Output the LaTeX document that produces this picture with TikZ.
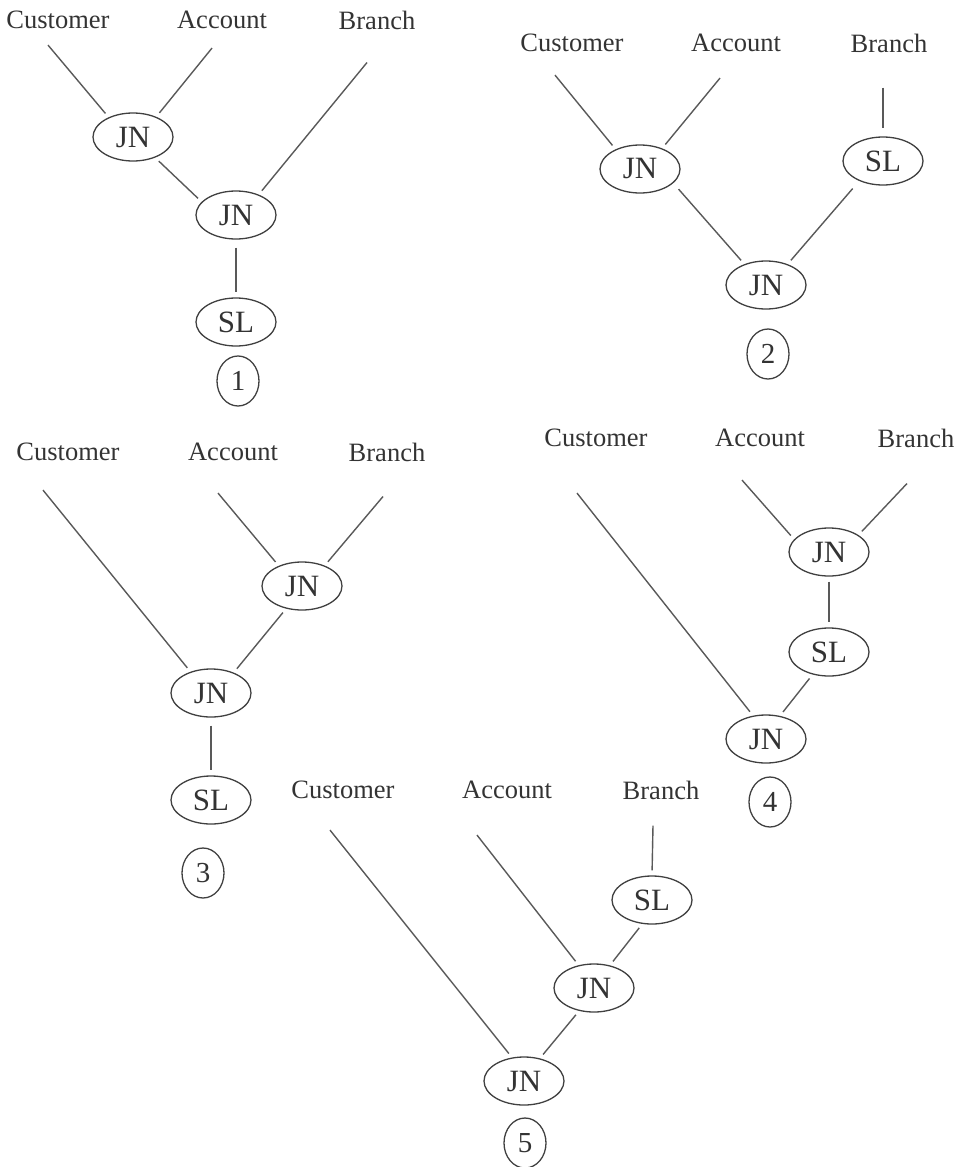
\documentclass[tikz,border=0pt]{standalone}
\usepackage{fontspec}
\setmainfont{Liberation Serif}
\usetikzlibrary{shapes.geometric}

\tikzset{
  lbl/.style={inner sep=0pt, text=black!80, font=\fontsize{26.5}{28}\selectfont},
  opnode/.style={ellipse, draw=black!75, line width=1.3pt, inner sep=0pt,
    minimum width=80pt, minimum height=48pt, text=black!80,
    font=\fontsize{31}{33}\selectfont},
  num/.style={opnode, minimum width=42pt, minimum height=50pt,
    font=\fontsize{29}{31}\selectfont},
  wire/.style={draw=black!65, line width=1.4pt, shorten >=5pt},
  bothgap/.style={wire, shorten <=5pt}
}

\begin{document}
\begin{tikzpicture}[x=1pt,y=-1pt]
\useasboundingbox (0,0) rectangle (959,1167);

% plan 1
\node[lbl] (c1) at (58,20) {Customer};
\node[lbl] (a1) at (222,20) {Account};
\node[lbl] (b1) at (377,20) {Branch};
\node[opnode] (j1) at (133,137) {JN};
\node[opnode] (k1) at (236,215) {JN};
\node[opnode] (s1) at (236,322) {SL};
\node[num] (n1) at (238,381) {1};
\draw[wire] (c1.south) ++(-10,16) -- (j1.141);
\draw[wire] (a1.south) ++(-10,19) -- (j1.41);
\draw[wire] (b1.south) ++(-10,33) -- (k1.42);
\draw[bothgap] (j1.-43) -- (k1.159);
\draw[bothgap, shorten <=8pt] (k1.south) -- (s1.north);

% plan 2
\node[lbl] (c2) at (572,43) {Customer};
\node[lbl] (a2) at (736,43) {Account};
\node[lbl] (b2) at (889,43) {Branch};
\node[opnode] (j2) at (640,169) {JN};
\node[opnode] (s2) at (883,161) {SL};
\node[opnode] (k2) at (766,285) {JN};
\node[num] (n2) at (768,354) {2};
\draw[wire] (c2.south) ++(-17,23) -- (j2.141);
\draw[wire] (a2.south) ++(-16,26) -- (j2.43);
\draw[wire, shorten >=8pt] (b2.south) ++(-6,35) -- (s2.north);
\draw[bothgap, shorten <=8pt] (j2.-23) -- (k2.136);
\draw[bothgap, shorten <=10pt] (s2.-140) -- (k2.44);

% plan 3
\node[lbl] (c3) at (68,452) {Customer};
\node[lbl] (a3) at (233,452) {Account};
\node[lbl] (b3) at (387,452) {Branch};
\node[opnode] (j3) at (302,586) {JN};
\node[opnode] (k3) at (211,693) {JN};
\node[opnode] (s3) at (211,800) {SL};
\node[num] (n3) at (203,873) {3};
\draw[wire] (c3.south) ++(-25,29) -- (k3.134);
\draw[wire] (a3.south) ++(-15,32) -- (j3.139);
\draw[wire] (b3.south) ++(-4,35) -- (j3.42);
\draw[bothgap] (j3.-125) -- (k3.42);
\draw[bothgap, shorten <=8pt] (k3.south) -- (s3.north);

% plan 4
\node[lbl] (c4) at (596,438) {Customer};
\node[lbl] (a4) at (760,438) {Account};
\node[lbl] (b4) at (916,438) {Branch};
\node[opnode] (j4) at (829,552) {JN};
\node[opnode] (s4) at (829,652) {SL};
\node[opnode] (k4) at (766,739) {JN};
\node[num] (n4) at (770,802) {4};
\draw[wire] (c4.south) ++(-19,46) -- (k4.119);
\draw[wire] (a4.south) ++(-18,33) -- (j4.160);
\draw[wire] (b4.south) ++(-9,36) -- (j4.30);
\draw[bothgap] (j4.south) -- (s4.north);
\draw[bothgap] (s4.-126) -- (k4.59);

% plan 5
\node[lbl] (c5) at (343,790) {Customer};
\node[lbl] (a5) at (507,790) {Account};
\node[lbl] (b5) at (661,790) {Branch};
\node[opnode] (s5) at (652,900) {SL};
\node[opnode] (j5) at (594,988) {JN};
\node[opnode] (k5) at (524,1081) {JN};
\node[num] (n5) at (525,1143) {5};
\draw[wire] (c5.south) ++(-13,31) -- (k5.117);
\draw[wire] (a5.south) ++(-30,36) -- (j5.124);
\draw[wire] (b5.south) ++(-8,26) -- (s5.north);
\draw[bothgap] (s5.-112) -- (j5.55);
\draw[bothgap] (j5.-123) -- (k5.55);
\end{tikzpicture}
\end{document}
